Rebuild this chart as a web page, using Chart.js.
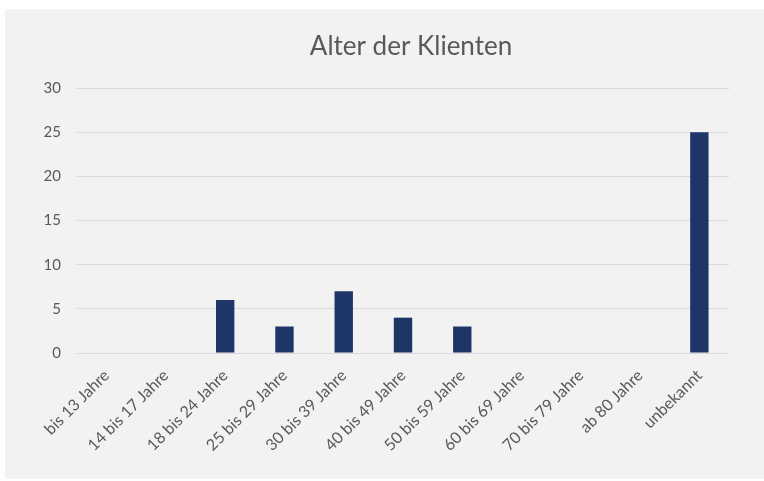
<!DOCTYPE html>
<html>
<head>
<meta charset="utf-8">
<script src="https://cdn.jsdelivr.net/npm/chart.js@4/dist/chart.umd.min.js"></script>
<style>
  html, body { margin: 0; padding: 0; background: #fff; }
  #panel { position: absolute; left: 5px; top: 9px; width: 759px; height: 470px; background: #f2f2f2; }
  #chart { display: block; }
</style>
</head>
<body>
<div id="panel"><canvas id="chart" width="759" height="470"></canvas></div>
<script>
'use strict';

const chartTitle = 'Alter der Klienten';
const categories = [
  'bis 13 Jahre', '14 bis 17 Jahre', '18 bis 24 Jahre', '25 bis 29 Jahre', '30 bis 39 Jahre',
  '40 bis 49 Jahre', '50 bis 59 Jahre', '60 bis 69 Jahre', '70 bis 79 Jahre', 'ab 80 Jahre', 'unbekannt'
];
const clients = [0, 0, 6, 3, 7, 4, 3, 0, 0, 0, 25];
const yTicks = [0, 5, 10, 15, 20, 25, 30];

const textColor = '#595959';
const fontFamily = 'Lato, "Open Sans", sans-serif';

// title centred over the plot area, like the original
const titlePlugin = {
  id: 'plotTitle',
  afterDraw(chart) {
    const { ctx, chartArea } = chart;
    ctx.save();
    ctx.font = '26px ' + fontFamily;
    ctx.fillStyle = textColor;
    ctx.textAlign = 'center';
    ctx.textBaseline = 'middle';
    ctx.fillText(chartTitle, (chartArea.left + chartArea.right) / 2 + 8, 38);
    ctx.restore();
  }
};

new Chart(document.getElementById('chart'), {
  type: 'bar',
  data: {
    labels: categories,
    datasets: [{
      data: clients,
      backgroundColor: '#1d3567',
      categoryPercentage: 1,
      barPercentage: 0.31
    }]
  },
  options: {
    responsive: false,
    animation: false,
    layout: { padding: { top: 79, right: 35, left: 0, bottom: 0 } },
    plugins: { legend: { display: false }, tooltip: { enabled: false } },
    scales: {
      x: {
        grid: { display: false, drawTicks: false },
        border: { display: false },
        ticks: {
          color: textColor, font: { family: fontFamily, size: 16 },
          minRotation: 45, maxRotation: 45, padding: 13, autoSkip: false
        },
        afterFit(s) { s.height = 126; }
      },
      y: {
        min: 0, max: 30,
        grid: { color: '#d9d9d9', drawTicks: false },
        border: { display: false },
        ticks: {
          color: textColor, font: { family: fontFamily, size: 15 }, padding: 16,
          stepSize: 5
        },
        afterBuildTicks(s) { s.ticks = yTicks.map(v => ({ value: v })); },
        afterFit(s) { s.width = 72; }
      }
    }
  },
  plugins: [titlePlugin]
});
</script>
</body>
</html>
